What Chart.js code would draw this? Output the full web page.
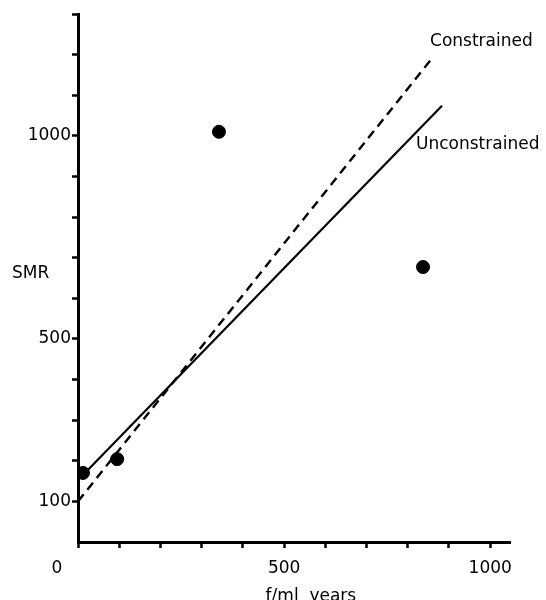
<!DOCTYPE html>
<html>
<head>
<meta charset="utf-8">
<script src="https://cdn.jsdelivr.net/npm/chart.js@4"></script>
<style>
  body { margin: 0; background: #fff; }
  #wrap { width: 546px; height: 600px; position: relative; }
</style>
</head>
<body>
<div id="wrap"><canvas id="grafico"></canvas></div>
<script>
// observed points (f/ml years, SMR)
const pointX = [12, 95, 342, 837];
const pointSMR = [170, 204, 1010, 677];

// fitted lines, end points
const unconstrainedX = [15, 883];
const unconstrainedY = [168, 1074];
const constrainedX = [0, 862];
const constrainedY = [100, 1195];

// axes
const xTicks = [0, 100, 200, 300, 400, 500, 600, 700, 800, 900, 1000];
const xTickLabels = ['', '', '', '', '', '500', '', '', '', '', '1000'];
const yTicks = [100, 200, 300, 400, 500, 600, 700, 800, 900, 1000, 1100, 1200, 1300];
const yTickLabels = ['100', '', '', '', '500', '', '', '', '', '1000', '', '', ''];

const FONT = 'DejaVu Sans';

const toPoints = (xs, ys) => xs.map((x, i) => ({ x: x, y: ys[i] }));

const textPlugin = {
    id: 'textos',
    afterDraw(chart) {
        const ctx = chart.ctx;
        const xs = chart.scales.x;
        const ys = chart.scales.y;
        ctx.save();
        ctx.fillStyle = '#000';
        ctx.font = '17px "' + FONT + '"';
        ctx.textBaseline = 'middle';
        ctx.textAlign = 'left';
        ctx.fillText('Constrained', xs.getPixelForValue(854), ys.getPixelForValue(1232));
        ctx.fillText('Unconstrained', xs.getPixelForValue(820), ys.getPixelForValue(978));
        ctx.fillText('SMR', 12, ys.getPixelForValue(660));
        // the 0 of the x axis sits left of the corner
        ctx.textAlign = 'center';
        ctx.fillText('0', xs.getPixelForValue(0) - 21, chart.chartArea.bottom + 27);
        ctx.fillText('f/ml  years', xs.getPixelForValue(565), chart.chartArea.bottom + 55);
        ctx.restore();
    }
};

const ctx = document.getElementById('grafico').getContext('2d');
new Chart(ctx, {
    type: 'scatter',
    data: {
        datasets: [
            {
                label: 'SMR',
                data: toPoints(pointX, pointSMR),
                backgroundColor: '#000',
                borderColor: '#000',
                pointRadius: 6.5,
                pointHoverRadius: 6.5
            },
            {
                label: 'Unconstrained',
                data: toPoints(unconstrainedX, unconstrainedY),
                showLine: true,
                borderColor: '#000',
                borderWidth: 2.2,
                pointRadius: 0
            },
            {
                label: 'Constrained',
                data: toPoints(constrainedX, constrainedY),
                showLine: true,
                borderColor: '#000',
                borderWidth: 2.4,
                borderDash: [9, 6],
                pointRadius: 0
            }
        ]
    },
    options: {
        responsive: true,
        maintainAspectRatio: false,
        animation: false,
        layout: {
            padding: { top: 14, right: 36, left: 0, bottom: 0 }
        },
        plugins: {
            legend: { display: false },
            tooltip: { enabled: false }
        },
        scales: {
            x: {
                type: 'linear',
                min: 0,
                max: 1048,
                afterBuildTicks: (scale) => {
                    scale.ticks = xTicks.map(v => ({ value: v }));
                },
                afterFit: (scale) => {
                    scale.height = 58;
                },
                border: { display: true, color: '#000', width: 3 },
                grid: {
                    drawOnChartArea: false,
                    drawTicks: true,
                    tickLength: 6,
                    tickWidth: 2.5,
                    tickColor: '#000'
                },
                ticks: {
                    color: '#000',
                    padding: 10,
                    maxRotation: 0,
                    autoSkip: false,
                    font: { family: FONT, size: 17 },
                    callback: (value) => {
                        const i = xTicks.indexOf(value);
                        return i >= 0 ? xTickLabels[i] : '';
                    }
                }
            },
            y: {
                type: 'linear',
                min: 0,
                max: 1300,
                afterBuildTicks: (scale) => {
                    scale.ticks = yTicks.map(v => ({ value: v }));
                },
                afterFit: (scale) => {
                    scale.width = 78;
                },
                border: { display: true, color: '#000', width: 3 },
                grid: {
                    drawOnChartArea: false,
                    drawTicks: true,
                    tickLength: 6,
                    tickWidth: 2.5,
                    tickColor: '#000'
                },
                ticks: {
                    color: '#000',
                    padding: 1,
                    autoSkip: false,
                    font: { family: FONT, size: 17 },
                    callback: (value) => {
                        const i = yTicks.indexOf(value);
                        return i >= 0 ? yTickLabels[i] : '';
                    }
                }
            }
        }
    },
    plugins: [textPlugin]
});
</script>
</body>
</html>
